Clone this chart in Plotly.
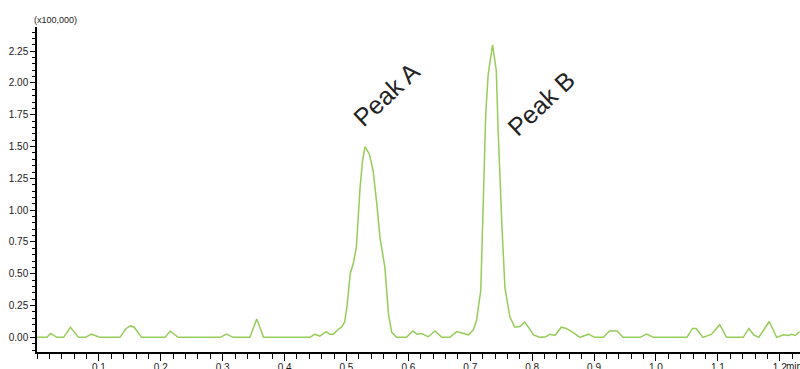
import plotly.graph_objects as go

# Retention time (min)
time_min = [0.000, 0.016, 0.022, 0.032, 0.043, 0.054, 0.067, 0.078, 0.088, 0.102,
            0.134, 0.144, 0.151, 0.157, 0.169, 0.207, 0.215, 0.228, 0.296, 0.306,
            0.317, 0.344, 0.355, 0.366, 0.441, 0.449, 0.457, 0.467, 0.473, 0.479,
            0.487, 0.492, 0.497, 0.501, 0.506, 0.511, 0.516, 0.522, 0.526, 0.530,
            0.537, 0.543, 0.549, 0.554, 0.562, 0.568, 0.573, 0.581, 0.597, 0.607,
            0.614, 0.621, 0.632, 0.643, 0.654, 0.667, 0.678, 0.689, 0.697, 0.705,
            0.710, 0.717, 0.721, 0.725, 0.729, 0.736, 0.742, 0.745, 0.751, 0.756,
            0.764, 0.772, 0.780, 0.788, 0.794, 0.802, 0.813, 0.822, 0.829, 0.837,
            0.847, 0.855, 0.866, 0.877, 0.891, 0.901, 0.915, 0.925, 0.937, 0.947,
            0.974, 0.985, 0.996, 1.050, 1.059, 1.065, 1.076, 1.090, 1.103, 1.114,
            1.141, 1.150, 1.158, 1.166, 1.173, 1.183, 1.195, 1.206, 1.214, 1.219,
            1.225, 1.232]

# Intensity (x100,000)
intensity = [0, 0, 0.03, 0, 0, 0.08, 0, 0, 0.025, 0,
             0, 0.07, 0.09, 0.08, 0, 0, 0.05, 0, 0, 0.025,
             0, 0, 0.145, 0, 0, 0.025, 0.01, 0.045, 0.025, 0.025,
             0.065, 0.08, 0.12, 0.25, 0.50, 0.58, 0.71, 1.18, 1.39, 1.50,
             1.44, 1.31, 1.05, 0.79, 0.55, 0.18, 0.04, 0, 0, 0.05,
             0.025, 0.03, 0.005, 0.05, 0, 0, 0.045, 0.03, 0.02, 0.06,
             0.13, 0.37, 1.10, 1.76, 2.07, 2.30, 2.10, 1.63, 0.89, 0.39,
             0.16, 0.08, 0.085, 0.12, 0.08, 0.02, 0, 0.005, 0.025, 0.015,
             0.08, 0.07, 0.04, 0, 0.025, 0, 0, 0.05, 0.05, 0,
             0, 0.025, 0, 0, 0.07, 0.07, 0, 0.025, 0.10, 0,
             0, 0.07, 0.02, 0, 0.05, 0.125, 0, 0.02, 0.015, 0.025,
             0.015, 0.045]

x_tickvals = [0.1, 0.2, 0.3, 0.4, 0.5, 0.6, 0.7, 0.8, 0.9, 1.0, 1.1, 1.2]
x_ticktext = ["0.1", "0.2", "0.3", "0.4", "0.5", "0.6", "0.7", "0.8", "0.9", "1.0", "1.1", "1.2"]
y_tickvals = [0, 0.25, 0.5, 0.75, 1.0, 1.25, 1.5, 1.75, 2.0, 2.25]

peak_labels = ["Peak A", "Peak B"]
peak_label_x = [0.5654, 0.8153]
peak_label_y = [1.91, 1.84]

FONT = "Arial, Liberation Sans, sans-serif"

fig = go.Figure()
fig.add_trace(go.Scatter(x=time_min, y=intensity, mode="lines",
                         line=dict(color="#96cc5a", width=1.5),
                         hoverinfo="skip", showlegend=False))

for lab, lx, ly in zip(peak_labels, peak_label_x, peak_label_y):
    fig.add_annotation(x=lx, y=ly, xref="x", yref="y", text=lab, showarrow=False,
                       textangle=-43, xanchor="center", yanchor="middle",
                       font=dict(family=FONT, size=25, color="#222222"))

fig.add_annotation(x=0, y=1, xref="paper", yref="paper", text="(x100,000)",
                   showarrow=False, xanchor="left", yanchor="bottom", xshift=-5, yshift=0,
                   font=dict(family=FONT, size=9, color="#222222"))
fig.add_annotation(x=1.2, y=0, xref="x", yref="paper", text="min",
                   showarrow=False, xanchor="left", yanchor="top", xshift=4, yshift=-7,
                   font=dict(family=FONT, size=10, color="#1a1a1a"))

fig.update_layout(
    width=800, height=369,
    margin=dict(l=37, r=0, t=27, b=17),
    paper_bgcolor="white", plot_bgcolor="white",
    font=dict(family=FONT, size=10, color="#1a1a1a"),
    xaxis=dict(range=[0, 1.2327], tickmode="array", tickvals=x_tickvals, ticktext=x_ticktext,
               showgrid=False, zeroline=False, showline=True, linecolor="black", linewidth=1.5,
               ticks="outside", ticklen=7, tickwidth=1, tickcolor="black",
               tickfont=dict(size=10), automargin=False, ticklabelstandoff=-2,
               minor=dict(tickmode="linear", tick0=0, dtick=0.02, ticks="outside",
                          ticklen=5, tickwidth=1, tickcolor="black", showgrid=False)),
    yaxis=dict(range=[-0.115, 2.44], tickmode="array", tickvals=y_tickvals, tickformat=".2f",
               showgrid=False, zeroline=False, showline=True, linecolor="black", linewidth=1.5,
               ticks="outside", ticklen=5, tickwidth=1, tickcolor="black",
               tickfont=dict(size=10), automargin=False,
               minor=dict(tickmode="linear", tick0=0, dtick=0.05, ticks="outside",
                          ticklen=3, tickwidth=1, tickcolor="black", showgrid=False)),
)

fig.write_html("out.html", config={"displayModeBar": False},
               post_script="document.body.style.margin='0px';document.body.style.overflow='hidden';")
